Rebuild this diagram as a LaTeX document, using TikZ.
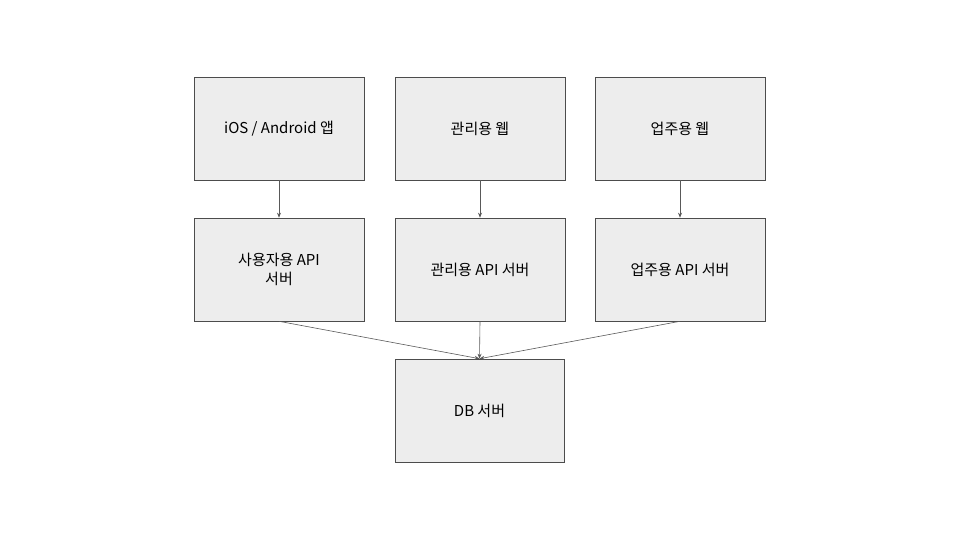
\documentclass[tikz,border=0pt]{standalone}
\usepackage{fontspec}
\setmainfont{Noto Sans CJK KR}
\usetikzlibrary{arrows.meta}
\begin{document}
\begin{tikzpicture}[x=1pt,y=-1pt,
  box/.style={draw=black!70,fill=black!7,line width=0.6pt,minimum width=170pt,minimum height=103pt,inner sep=0pt,align=center,font=\fontsize{15pt}{19pt}\selectfont},
  conn/.style={draw=black!65,line width=0.6pt,-{Stealth[length=5pt,width=4pt]}}]
\useasboundingbox (0,0) rectangle (960,540);
\node[box] (ios) at (279,128.5) {iOS / Android 앱};
\node[box] (adm) at (480,128.5) {관리용 웹};
\node[box] (biz) at (680,128.5) {업주용 웹};
\node[box] (uapi) at (279,269.5) {사용자용 API\\서버};
\node[box] (aapi) at (480,269.5) {관리용 API 서버};
\node[box] (bapi) at (680,269.5) {업주용 API 서버};
\node[box,minimum width=169pt] (db) at (479.5,410.5) {DB 서버};
\draw[conn] (ios.south) -- (uapi.north);
\draw[conn] (adm.south) -- (aapi.north);
\draw[conn] (biz.south) -- (bapi.north);
\draw[conn] (uapi.south) -- (db.north);
\draw[conn] (aapi.south) -- (db.north);
\draw[conn] (bapi.south) -- (db.north);
\end{tikzpicture}
\end{document}
